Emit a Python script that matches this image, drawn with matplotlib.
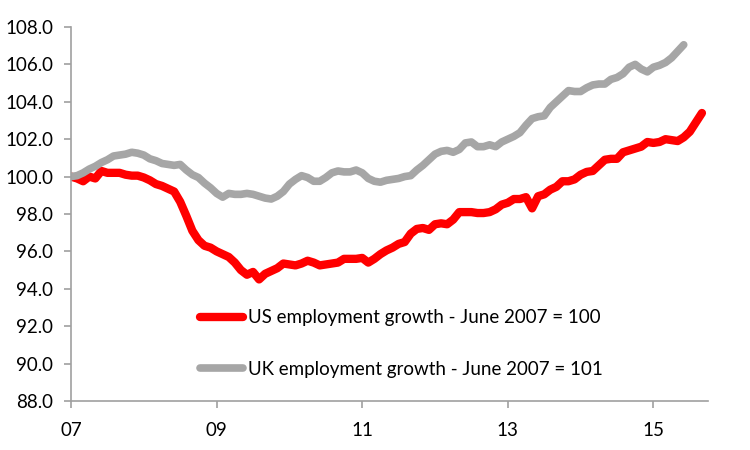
import matplotlib
matplotlib.use("Agg")
import matplotlib.pyplot as plt

plt.rcParams['font.family'] = ['Lato', 'DejaVu Sans']

# months since June 2007
us_months = list(range(0, 105))
us_values = [100.0, 99.9, 99.75, 100.0, 99.9, 100.3, 100.2, 100.2, 100.2, 100.1,
             100.05, 100.05, 99.95, 99.8, 99.6, 99.5, 99.35, 99.2, 98.65, 97.9,
             97.1, 96.6, 96.3, 96.2, 96.0, 95.85, 95.7, 95.4, 95.0, 94.75,
             94.9, 94.5, 94.8, 94.95, 95.1, 95.35, 95.3, 95.25, 95.35, 95.5,
             95.4, 95.25, 95.3, 95.35, 95.4, 95.6, 95.6, 95.6, 95.65, 95.4,
             95.6, 95.85, 96.05, 96.2, 96.4, 96.5, 96.95, 97.2, 97.25, 97.15,
             97.45, 97.5, 97.45, 97.7, 98.1, 98.1, 98.1, 98.05, 98.05, 98.1,
             98.25, 98.5, 98.6, 98.8, 98.8, 98.9, 98.3, 98.95, 99.05, 99.3,
             99.45, 99.75, 99.75, 99.85, 100.1, 100.25, 100.3, 100.6, 100.9, 100.95,
             100.95, 101.3, 101.4, 101.5, 101.6, 101.85, 101.8, 101.85, 102.0, 101.95,
             101.9, 102.1, 102.4, 102.9, 103.4]

uk_months = list(range(0, 102))
uk_values = [100.0, 100.05, 100.2, 100.4, 100.55, 100.75, 100.9, 101.1, 101.15, 101.2,
             101.3, 101.25, 101.15, 100.95, 100.85, 100.7, 100.65, 100.6, 100.65, 100.35,
             100.1, 99.95, 99.65, 99.4, 99.1, 98.9, 99.1, 99.05, 99.05, 99.1,
             99.05, 98.95, 98.85, 98.8, 98.95, 99.2, 99.6, 99.85, 100.05, 99.95,
             99.75, 99.75, 99.95, 100.2, 100.3, 100.25, 100.25, 100.35, 100.2, 99.9,
             99.75, 99.7, 99.8, 99.85, 99.9, 100.0, 100.05, 100.35, 100.6, 100.9,
             101.2, 101.35, 101.4, 101.3, 101.45, 101.8, 101.85, 101.6, 101.6, 101.7,
             101.6, 101.85, 102.0, 102.15, 102.35, 102.75, 103.1, 103.2, 103.25, 103.7,
             104.0, 104.3, 104.6, 104.55, 104.55, 104.75, 104.9, 104.95, 104.95, 105.2,
             105.3, 105.5, 105.85, 106.0, 105.75, 105.6, 105.85, 105.95, 106.1, 106.35,
             106.7, 107.05]

x_tick_pos = [0, 24, 48, 72, 96]
x_tick_labels = ['07', '09', '11', '13', '15']
y_ticks = [88, 90, 92, 94, 96, 98, 100, 102, 104, 106, 108]

us_label = 'US employment growth - June 2007 = 100'
uk_label = 'UK employment growth - June 2007 = 101'

fig = plt.figure(figsize=(7.5, 4.5), dpi=100)
ax = fig.add_axes([0.0947, 0.109, 0.8493, 0.831])

ax.plot(us_months, us_values, color='#ff0000', lw=6, solid_capstyle='round',
        solid_joinstyle='round', label=us_label)
ax.plot(uk_months, uk_values, color='#a6a6a6', lw=5.5, solid_capstyle='round',
        solid_joinstyle='round', label=uk_label)

ax.set_xlim(0, 105)
ax.set_ylim(88, 108)
ax.set_xticks(x_tick_pos)
ax.set_xticklabels(x_tick_labels)
ax.set_yticks(y_ticks)
ax.set_yticklabels(['%.1f' % v for v in y_ticks])

for s in ['top', 'right']:
    ax.spines[s].set_visible(False)
for s in ['left', 'bottom']:
    ax.spines[s].set_color('#a0a0a0')
    ax.spines[s].set_linewidth(1.2)
ax.tick_params(axis='both', colors='#a0a0a0', labelcolor='black', labelsize=13.5,
               length=5, width=1.2, direction='out')
ax.tick_params(axis='x', pad=10)
ax.tick_params(axis='y', pad=8)

leg = ax.legend(loc='center left', bbox_to_anchor=(0.2025, 0.154), frameon=False,
                fontsize=13.5, handlelength=2.3, handletextpad=0.25,
                labelspacing=1.83, borderpad=0, borderaxespad=0)

fig.savefig('out.png', dpi=100)
